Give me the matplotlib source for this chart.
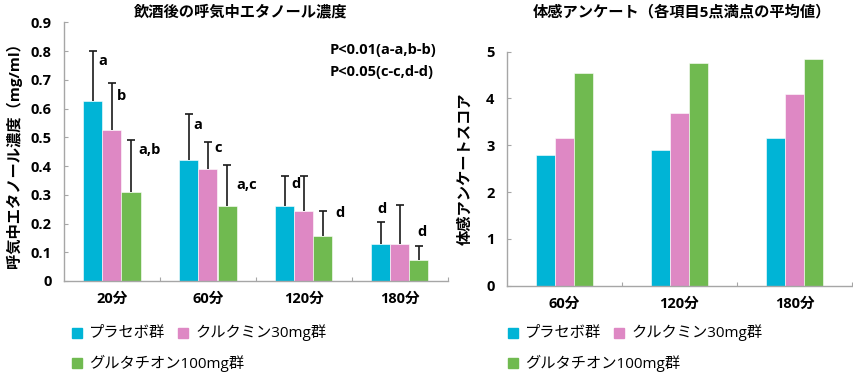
import numpy as np
import matplotlib
matplotlib.use("Agg")
import matplotlib.pyplot as plt
from matplotlib.patches import Rectangle

plt.rcParams['font.family'] = ['Open Sans', 'Noto Sans CJK JP', 'DejaVu Sans']

# ---------------- data ----------------
series_names = ['プラセボ群', 'クルクミン30mg群', 'グルタチオン100mg群']
colors = ['#00B4D6', '#DE88C4', '#70BA50']

breath_categories = ['20分', '60分', '120分', '180分']
breath_placebo = [0.625, 0.42, 0.26, 0.128]
breath_curcumin = [0.525, 0.39, 0.243, 0.128]
breath_glutathione = [0.308, 0.26, 0.155, 0.074]
breath_err_placebo = [0.175, 0.16, 0.105, 0.078]
breath_err_curcumin = [0.165, 0.095, 0.122, 0.138]
breath_err_glutathione = [0.182, 0.142, 0.09, 0.047]

# (category index, series index, label)
sig_labels = [(0, 0, 'a'), (0, 1, 'b'), (0, 2, 'a,b'),
              (1, 0, 'a'), (1, 1, 'c'), (1, 2, 'a,c'),
              (2, 0, 'd'), (2, 2, 'd'),
              (3, 0, 'd'), (3, 2, 'd')]
p_notes = ['P<0.01(a-a,b-b)', 'P<0.05(c-c,d-d)']

survey_categories = ['60分', '120分', '180分']
survey_placebo = [2.8, 2.9, 3.15]
survey_curcumin = [3.15, 3.7, 4.1]
survey_glutathione = [4.55, 4.75, 4.85]

# ---------------- figure ----------------
W, H = 854, 375
fig = plt.figure(figsize=(W / 100, H / 100), dpi=100)

def fig_rect(x0, y0, x1, y1):
    return [x0 / W, 1 - y1 / H, (x1 - x0) / W, (y1 - y0) / H]

ax1 = fig.add_axes(fig_rect(64, 22.3, 448, 281))
ax2 = fig.add_axes(fig_rect(507, 51.7, 852, 285.7))

spine_c = '#A6A6A6'
for ax in (ax1, ax2):
    for s in ('top', 'right'):
        ax.spines[s].set_visible(False)
    for s in ('left', 'bottom'):
        ax.spines[s].set_color(spine_c)
        ax.spines[s].set_linewidth(1.0)
    ax.tick_params(axis='y', direction='in', length=3, color=spine_c,
                   labelsize=10.5, pad=9)
    ax.tick_params(axis='x', which='major', direction='in', length=3,
                   color=spine_c)
    ax.tick_params(axis='x', which='minor', length=0, labelsize=10.5, pad=8)

# ---- left chart ----
vals1 = [breath_placebo, breath_curcumin, breath_glutathione]
errs1 = [breath_err_placebo, breath_err_curcumin, breath_err_glutathione]
x1 = np.arange(len(breath_categories))
w1 = 19 / 96
bar_x = {}
for i, (v, e, c) in enumerate(zip(vals1, errs1, colors)):
    xs = x1 + (i - 1) * w1
    ax1.bar(xs, v, width=w1, color=c, edgecolor='white', linewidth=0.4, zorder=2)
    _, caps, _ = ax1.errorbar(xs, v, yerr=[np.zeros(len(v)), e], fmt='none',
                              ecolor='#1a1a1a', elinewidth=1.2, capsize=3,
                              capthick=1.2, zorder=3)
    caps[0].set_visible(False)   # only the upper cap
    bar_x[i] = xs

ax1.set_xlim(-0.5, 3.5)
ax1.set_ylim(0, 0.9)
yt = np.round(np.arange(0, 0.91, 0.1), 1)
ax1.set_yticks(yt)
ax1.set_yticklabels([f'{t:g}' for t in yt], fontweight='bold')
ax1.set_xticks(np.arange(0.5, 4.0, 1.0))
ax1.set_xticklabels([])
ax1.set_xticks(x1, minor=True)
ax1.set_xticklabels(breath_categories, minor=True, fontweight='bold')
ax1.set_ylabel('呼気中エタノール濃度（mg/ml）', fontsize=11, fontweight='bold',
               labelpad=6)

# annotation offsets in pixels (dx, dy, ha)
offsets = {(0, 0): (5, -10, 'left'), (0, 1): (5, -13, 'left'), (0, 2): (7, -10, 'left'),
           (1, 0): (4, -11, 'left'), (1, 1): (6, -6, 'left'), (1, 2): (9, -20, 'left'),
           (2, 0): (6, -8, 'left'), (2, 2): (12, -2, 'left'),
           (3, 0): (1, 13, 'center'), (3, 2): (3, 14, 'center')}
for ci, si, lab in sig_labels:
    top = vals1[si][ci] + errs1[si][ci]
    dx, dy, ha = offsets[(ci, si)]
    ax1.annotate(lab, (bar_x[si][ci], top), xytext=(dx * 0.72, dy * 0.72),
                 textcoords='offset points', ha=ha, va='center',
                 fontsize=10.5, fontweight='bold', zorder=4)

for k, py in enumerate((50, 72)):
    ax1.text((330 - 64) / 384, (281 - py) / 258.7, p_notes[k], transform=ax1.transAxes,
             ha='left', va='center', fontsize=10.5, fontweight='bold')

fig.text(241 / W, 1 - 12.5 / H, '飲酒後の呼気中エタノール濃度', ha='center', va='center',
         fontsize=11, fontweight='bold')

# ---- right chart ----
vals2 = [survey_placebo, survey_curcumin, survey_glutathione]
x2 = np.arange(len(survey_categories))
w2 = 19 / 115
for i, (v, c) in enumerate(zip(vals2, colors)):
    ax2.bar(x2 + (i - 1) * w2, v, width=w2, color=c, edgecolor='white',
            linewidth=0.4, zorder=2)
ax2.set_xlim(-0.5, 2.5)
ax2.set_ylim(0, 5)
ax2.set_yticks(range(0, 6))
ax2.set_yticklabels([str(t) for t in range(0, 6)], fontweight='bold')
ax2.set_xticks(np.arange(0.5, 3.0, 1.0))
ax2.set_xticklabels([])
ax2.set_xticks(x2, minor=True)
ax2.set_xticklabels(survey_categories, minor=True, fontweight='bold')
ax2.set_ylabel('体感アンケートスコア', fontsize=11, fontweight='bold', labelpad=10)

fig.text(682 / W, 1 - 12 / H, '体感アンケート（各項目5点満点の平均値）', ha='center',
         va='center', fontsize=11, fontweight='bold')

# ---- legends ----
def draw_legend(x0):
    rows = [(x0, 333, 0), (x0 + 106, 333, 1), (x0, 363, 2)]
    for px, py, idx in rows:
        fig.patches.append(Rectangle((px / W, 1 - (py + 5) / H), 10 / W, 10 / H,
                                     transform=fig.transFigure, color=colors[idx]))
        fig.text((px + 17) / W, 1 - py / H, series_names[idx], ha='left', va='center',
                 fontsize=11)

draw_legend(72)
draw_legend(508)

fig.savefig('out.png', dpi=100)
